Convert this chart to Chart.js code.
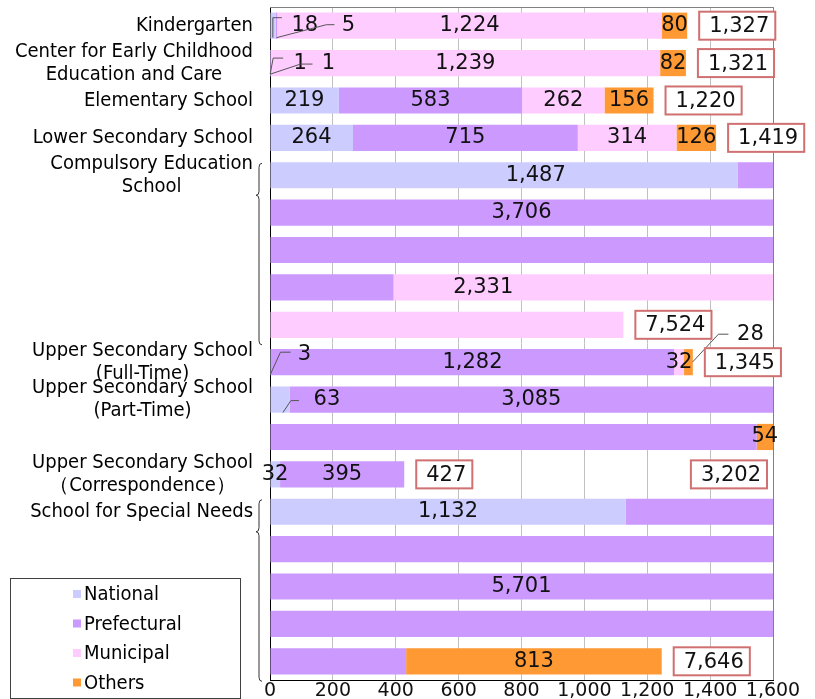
<!DOCTYPE html>
<html><head><meta charset="utf-8">
<script src="https://cdn.jsdelivr.net/npm/chart.js@4.4.1/dist/chart.umd.min.js"></script>
<style>html,body{margin:0;padding:0;background:#fff;}</style>
</head><body>
<canvas id="c" width="815" height="699"></canvas>
<script>
// ---------- data ----------
const schools = [
  'Kindergarten',
  'Center for Early Childhood\nEducation and Care',
  'Elementary School',
  'Lower Secondary School',
  'Compulsory Education\nSchool',
  'Upper Secondary School\n(Full-Time)',
  'Upper Secondary School\n(Part-Time)',
  'Upper Secondary School\n（Correspondence）',
  'School for Special Needs'
];
const seriesNames = ['National', 'Prefectural', 'Municipal', 'Others'];
const national    = [18, 1, 219, 264, 1487, 3, 63, 32, 1132];
const prefectural = [5, 1, 583, 715, 3706, 1282, 3085, 395, 5701];
const municipal   = [1224, 1239, 262, 314, 2331, 32, 0, 0, 0];
const others      = [80, 82, 156, 126, 0, 28, 54, 0, 813];
const totals      = [1327, 1321, 1220, 1419, 7524, 1345, 3202, 427, 7646];
const axisTicks   = [0, 200, 400, 600, 800, 1000, 1200, 1400, 1600];

// ---------- styles ----------
const colors = ['#ccccff', '#cc99ff', '#ffccff', '#ff9933'];
const LABEL_FONT = '20px "DejaVu Sans Condensed", "DejaVu Sans"';
const NUM_FONT = '21px "DejaVu Sans"';
// label callouts (pixel offsets from segment centre / row centre)
const callouts = {
  '0-0': {pts: [[0, 12], [0, -8], [9, -8]], label: [32, 0]},
  '0-1': {pts: [[0, 12], [50, -1], [58, -1]], label: [72, 0]},
  '1-0': {pts: [[0, 11], [3, -5], [13, -5]], label: [30, 0]},
  '1-1': {pts: [[0, 11], [30, 1], [42, 1]], label: [58, 0]},
  '5-0': {pts: [[0, 12], [10, -10], [20, -10]], label: [34, -8]},
  '5-3': {pts: [[4, 0], [30, -28], [40, -28]], label: [62, -28]},
  '6-0': {pts: [[3, 13], [11, 1], [19, 1]], label: [47, 0]}
};
const labelNudge = {'4-0': [32, 0], '4-2': [-100, 0]};

// ---------- build wrapped rows ----------
const seriesValues = [national, prefectural, municipal, others];
const ROW_MAX = axisTicks[axisTicks.length - 1];
const rowLabels = [], schoolFirstRow = [], schoolRowCount = [], schoolSum = [];
schools.forEach((s, i) => {
  const sum = seriesValues.reduce((a, arr) => a + arr[i], 0);
  schoolSum.push(sum);
  const n = Math.max(1, Math.ceil(sum / ROW_MAX - 0.01));
  schoolFirstRow.push(rowLabels.length);
  schoolRowCount.push(n);
  for (let r = 0; r < n; r++) rowLabels.push(r === 0 ? s : '');
});
const NR = rowLabels.length;
const pieces = seriesNames.map(() => []);
const datasets = seriesNames.map((name, k) => ({
  label: name, backgroundColor: colors[k], borderWidth: 0,
  data: new Array(NR).fill(null), grouped: false,
  barPercentage: 0.7, categoryPercentage: 1
}));
schools.forEach((s, i) => {
  let cum = 0;
  const cap = schoolRowCount[i] * ROW_MAX;
  seriesValues.forEach((arr, k) => {
    const v = arr[i], start = cum, end = cum + v;
    cum = end;
    pieces[k][i] = [];
    if (v <= 0) return;
    let a = start;
    while (a < end && a < cap) {
      const r = Math.floor(a / ROW_MAX + 1e-9);
      const b = Math.min(end, (r + 1) * ROW_MAX);
      const row = schoolFirstRow[i] + r;
      datasets[k].data[row] = [a - r * ROW_MAX, b - r * ROW_MAX];
      pieces[k][i].push({row, a: a - r * ROW_MAX, b: b - r * ROW_MAX});
      a = b;
    }
  });
});

// ---------- decorations ----------
const deco = {
  id: 'deco',
  afterDraw(chart) {
    const {ctx, chartArea: ca, scales: {x, y}} = chart;
    const rowY = r => y.getPixelForValue(r);
    ctx.save();
    // plot frame (top/right)
    ctx.strokeStyle = '#808080'; ctx.lineWidth = 1;
    ctx.beginPath();
    ctx.moveTo(ca.left, ca.top + 0.5); ctx.lineTo(ca.right + 0.5, ca.top + 0.5);
    ctx.lineTo(ca.right + 0.5, ca.bottom); ctx.stroke();

    // category labels
    ctx.fillStyle = '#000'; ctx.font = LABEL_FONT; ctx.textBaseline = 'middle';
    const labRight = ca.left - 17;
    schools.forEach((s, i) => {
      const lines = s.split('\n');
      const cy = rowY(schoolFirstRow[i]);
      const widths = lines.map(l => ctx.measureText(l).width);
      const bw = Math.max(...widths);
      const lh = 23;
      lines.forEach((l, j) => {
        const ly = cy + (j - (lines.length - 1) / 2) * lh;
        ctx.textAlign = 'center';
        ctx.fillText(l, labRight - bw / 2, ly);
      });
      // braces for long wrapped bars
      if (schoolRowCount[i] > 2) {
        const top = rowY(schoolFirstRow[i]) - 12;
        const bot = rowY(schoolFirstRow[i] + schoolRowCount[i] - 1) + 20;
        const cusp = rowY(schoolFirstRow[i]) + 20;
        const xe = ca.left - 8, xm = ca.left - 11, xc = ca.left - 14;
        ctx.strokeStyle = '#333'; ctx.lineWidth = 1;
        ctx.beginPath();
        ctx.moveTo(xe, top);
        ctx.quadraticCurveTo(xm, top, xm, top + 4);
        ctx.lineTo(xm, cusp - 4);
        ctx.quadraticCurveTo(xm, cusp, xc, cusp);
        ctx.quadraticCurveTo(xm, cusp, xm, cusp + 4);
        ctx.lineTo(xm, bot - 4);
        ctx.quadraticCurveTo(xm, bot, xe, bot);
        ctx.stroke();
      }
    });

    // value labels
    ctx.font = NUM_FONT; ctx.fillStyle = '#111'; ctx.textAlign = 'center'; ctx.textBaseline = 'middle';
    schools.forEach((s, i) => {
      seriesValues.forEach((arr, k) => {
        const ps = pieces[k][i];
        if (!ps || !ps.length) return;
        const maxLen = Math.max(...ps.map(p => p.b - p.a));
        const cand = ps.filter(p => (p.b - p.a) >= maxLen * 0.95);
        const p = cand[Math.floor((cand.length - 1) / 2)];
        const cx = x.getPixelForValue((p.a + p.b) / 2);
        const cy = rowY(p.row);
        const key = i + '-' + k;
        const txt = arr[i].toLocaleString('en-US');
        if (callouts[key]) {
          const c = callouts[key];
          ctx.strokeStyle = '#555'; ctx.lineWidth = 1;
          ctx.beginPath();
          c.pts.forEach((q, j) => {
            const px = cx + q[0], py = cy + q[1];
            if (j === 0) ctx.moveTo(px, py); else ctx.lineTo(px, py);
          });
          ctx.stroke();
          ctx.fillText(txt, cx + c.label[0], cy + c.label[1]);
        } else {
          const n = labelNudge[key] || [0, 0];
          ctx.fillText(txt, cx + n[0], cy + n[1]);
        }
      });
    });

    // total boxes
    schools.forEach((s, i) => {
      const n = schoolRowCount[i];
      const lastRow = schoolFirstRow[i] + n - 1;
      const endVal = Math.min(schoolSum[i], n * ROW_MAX) - (n - 1) * ROW_MAX;
      const txt = totals[i].toLocaleString('en-US');
      ctx.font = NUM_FONT;
      const tw = ctx.measureText(txt).width;
      const bw = tw + 16, bh = 28;
      let left, cy;
      if (endVal > ROW_MAX * 0.9) {
        cy = rowY(lastRow + 1);
        left = ca.right - 6 - bw;
      } else {
        cy = rowY(lastRow);
        left = x.getPixelForValue(endVal) + 12;
      }
      ctx.fillStyle = '#fff';
      ctx.fillRect(left, cy - bh / 2, bw, bh);
      ctx.strokeStyle = '#d07070'; ctx.lineWidth = 2;
      ctx.strokeRect(left, cy - bh / 2, bw, bh);
      ctx.fillStyle = '#111'; ctx.textAlign = 'left';
      ctx.fillText(txt, left + 10, cy + 1);
    });

    // legend
    const lx = 10.5, ly = 578.5, lw = 230, lhh = 120;
    ctx.fillStyle = '#fff'; ctx.fillRect(lx, ly, lw, lhh);
    ctx.strokeStyle = '#404040'; ctx.lineWidth = 1; ctx.strokeRect(lx, ly, lw, lhh);
    ctx.font = LABEL_FONT; ctx.textAlign = 'left'; ctx.textBaseline = 'middle';
    chart.data.datasets.forEach((ds, k) => {
      const iy = 594 + k * 29.5;
      ctx.fillStyle = ds.backgroundColor;
      ctx.fillRect(73, iy - 4, 8, 8);
      ctx.fillStyle = '#000';
      ctx.fillText(ds.label, 84, iy + 1);
    });
    ctx.restore();
  }
};

new Chart(document.getElementById('c'), {
  type: 'bar',
  data: {labels: rowLabels.map((l, i) => l || ('row' + i)), datasets},
  options: {
    indexAxis: 'y', responsive: false, animation: false, devicePixelRatio: 1,
    layout: {padding: {top: 7, right: 42, left: 0, bottom: 0}},
    plugins: {legend: {display: false}, tooltip: {enabled: false}},
    scales: {
      x: {
        type: 'linear', min: 0, max: ROW_MAX, position: 'bottom',
        afterBuildTicks: s => { s.ticks = axisTicks.map(v => ({value: v})); },
        afterFit: s => { s.height = 19; },
        ticks: {font: {family: 'DejaVu Sans', size: 19}, color: '#111', padding: 0,
                autoSkip: false, maxRotation: 0,
                callback: v => Number(v).toLocaleString('en-US')},
        grid: {color: '#c0c0c0', drawTicks: false, lineWidth: 1},
        border: {display: true, color: '#000', width: 1}
      },
      y: {
        type: 'category', offset: true,
        afterFit: s => { s.width = 270; },
        ticks: {display: false},
        grid: {display: false, drawTicks: false},
        border: {display: true, color: '#000', width: 1}
      }
    }
  },
  plugins: [deco]
});
</script>
</body></html>
